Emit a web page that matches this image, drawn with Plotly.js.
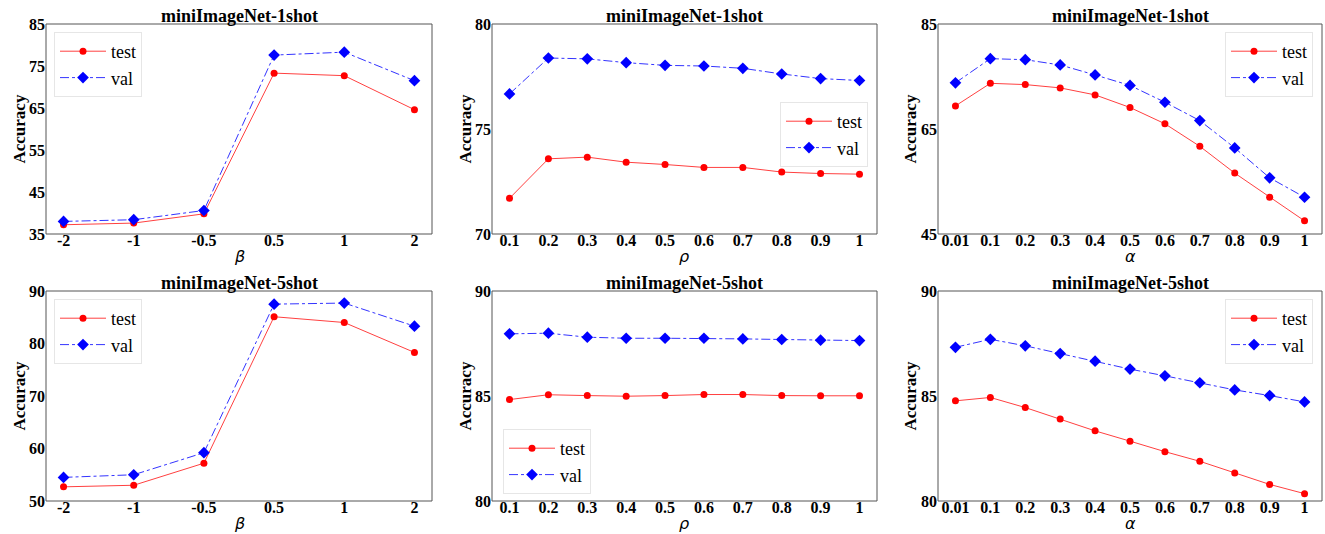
<!DOCTYPE html>
<html>
<head>
<meta charset="utf-8">
<script src="https://cdn.plot.ly/plotly-3.0.1.min.js"></script>
<style>html,body{margin:0;padding:0;background:#fff;}#chart{width:1325px;height:534px;}</style>
</head>
<body>
<div id="chart"></div>
<script>
// ---- data ----
var betaCats  = ['-2','-1','-0.5','0.5','1','2'];
var rhoCats   = ['0.1','0.2','0.3','0.4','0.5','0.6','0.7','0.8','0.9','1'];
var alphaCats = ['0.01','0.1','0.2','0.3','0.4','0.5','0.6','0.7','0.8','0.9','1'];

var beta1Test  = [37.2, 37.6, 39.8, 73.3, 72.7, 64.6];
var beta1Val   = [38.0, 38.4, 40.6, 77.6, 78.3, 71.5];
var rho1Test   = [71.7, 73.58, 73.66, 73.42, 73.31, 73.17, 73.17, 72.95, 72.88, 72.85];
var rho1Val    = [76.67, 78.38, 78.34, 78.16, 78.03, 78.0, 77.89, 77.62, 77.4, 77.31];
var alpha1Test = [69.4, 73.7, 73.46, 72.83, 71.5, 69.1, 66.0, 61.7, 56.6, 52.0, 47.5];
var alpha1Val  = [73.8, 78.4, 78.2, 77.2, 75.3, 73.3, 70.1, 66.6, 61.4, 55.7, 52.0];

var beta5Test  = [52.7, 53.0, 57.2, 85.1, 84.0, 78.3];
var beta5Val   = [54.5, 55.0, 59.2, 87.5, 87.7, 83.3];
var rho5Test   = [84.83, 85.06, 85.02, 84.99, 85.02, 85.07, 85.07, 85.02, 85.01, 85.01];
var rho5Val    = [87.96, 87.99, 87.80, 87.75, 87.75, 87.75, 87.72, 87.69, 87.66, 87.64];
var alpha5Test = [84.77, 84.93, 84.45, 83.91, 83.34, 82.85, 82.35, 81.89, 81.33, 80.79, 80.35];
var alpha5Val  = [87.32, 87.70, 87.39, 87.02, 86.66, 86.28, 85.96, 85.63, 85.29, 85.02, 84.72];

var titles = ['miniImageNet-1shot','miniImageNet-1shot','miniImageNet-1shot',
              'miniImageNet-5shot','miniImageNet-5shot','miniImageNet-5shot'];
var xLabels = ['β','ρ','α','β','ρ','α'];
var yLabel = 'Accuracy';
var yTicks = [[35,45,55,65,75,85],[70,75,80],[45,65,85],[50,60,70,80,90],[80,85,90],[80,85,90]];

// ---- build ----
var panels = [
  {cats: betaCats,  test: beta1Test,  val: beta1Val},
  {cats: rhoCats,   test: rho1Test,   val: rho1Val},
  {cats: alphaCats, test: alpha1Test, val: alpha1Val},
  {cats: betaCats,  test: beta5Test,  val: beta5Val},
  {cats: rhoCats,   test: rho5Test,   val: rho5Val},
  {cats: alphaCats, test: alpha5Test, val: alpha5Val}
];

var W = 1325, H = 534;
var colPx = [[46,432],[492,877],[938,1322]];
var rowPx = [[24,234],[291,501]];
var yTitleX = [18.5, 464.5, 909.5];
var xPad = [0.25, 0.45, 0.5];

var data = [];
var layout = {
  width: W, height: H,
  margin: {l:0, r:0, t:0, b:0},
  paper_bgcolor: '#fff', plot_bgcolor: '#fff',
  showlegend: true,
  annotations: [],
  shapes: []
};

var tickFont = {family: 'Liberation Serif', size: 16, weight: 'bold', color: '#000'};
var legendPos = [
  {x: 54/W,   y: 1-32/H,  xanchor:'left',  yanchor:'top'},
  {x: 868/W,  y: 1-102/H, xanchor:'right', yanchor:'top'},
  {x: 1313/W, y: 1-32/H,  xanchor:'right', yanchor:'top'},
  {x: 54/W,   y: 1-299/H, xanchor:'left',  yanchor:'top'},
  {x: 503/W,  y: 1-494/H, xanchor:'left',  yanchor:'bottom'},
  {x: 1313/W, y: 1-299/H, xanchor:'right', yanchor:'top'}
];

panels.forEach(function(p, i){
  var r = Math.floor(i/3), c = i%3;
  var n = i+1;
  var xa = n===1 ? 'x' : 'x'+n, ya = n===1 ? 'y' : 'y'+n;
  var lg = n===1 ? 'legend' : 'legend'+n;
  data.push({
    x: p.cats, y: p.test, xaxis: xa, yaxis: ya, name: 'test', legend: lg,
    type: 'scatter', mode: 'lines+markers',
    line: {color: 'rgba(255,0,0,0.75)', width: 1},
    marker: {color: '#ff0000', size: 7, symbol: 'circle'}
  });
  data.push({
    x: p.cats, y: p.val, xaxis: xa, yaxis: ya, name: 'val', legend: lg,
    type: 'scatter', mode: 'lines+markers',
    line: {color: 'rgba(0,0,255,0.8)', width: 1, dash: 'dashdot'},
    marker: {color: '#0000ff', size: 9, symbol: 'diamond'}
  });
  var yt = yTicks[i];
  var xKey = n===1 ? 'xaxis' : 'xaxis'+n, yKey = n===1 ? 'yaxis' : 'yaxis'+n;
  layout[xKey] = {
    domain: [colPx[c][0]/W, colPx[c][1]/W],
    anchor: 'free', position: 1-(rowPx[r][1]-5)/H, type: 'category',
    range: [-xPad[c], p.cats.length-1+xPad[c]],
    showgrid: false, zeroline: false, showline: false,
    ticks: '', ticklen: 0, tickfont: tickFont
  };
  layout[yKey] = {
    domain: [1-rowPx[r][1]/H, 1-rowPx[r][0]/H],
    anchor: xa,
    range: [yt[0], yt[yt.length-1]],
    tickvals: yt,
    showgrid: false, zeroline: false, showline: false,
    ticks: '', ticklen: 0, tickfont: tickFont
  };
  // axes frame
  layout.shapes.push({
    type: 'rect', xref: xa + ' domain', yref: ya + ' domain',
    x0: 0, x1: 1, y0: 0, y1: 1,
    line: {color: '#555', width: 1}, fillcolor: 'rgba(0,0,0,0)', layer: 'below'
  });
  var lp = legendPos[i];
  layout[lg] = {
    x: lp.x, y: lp.y, xanchor: lp.xanchor, yanchor: lp.yanchor,
    xref: 'paper', yref: 'paper',
    bgcolor: 'rgba(255,255,255,0.9)', bordercolor: '#e6e6e6', borderwidth: 1,
    font: {family: 'Liberation Serif', size: 18, color: '#000'},
    itemwidth: 46,
    tracegroupgap: 0
  };
  // subplot title
  layout.annotations.push({
    text: '<b>' + titles[i] + '</b>',
    xref: 'paper', yref: 'paper',
    x: (colPx[c][0]+colPx[c][1])/2/W, y: 1-(rowPx[r][0]-8)/H,
    xanchor: 'center', yanchor: 'middle', showarrow: false,
    font: {family: 'Liberation Serif', size: 18, color: '#000'}
  });
  // x-axis title
  layout.annotations.push({
    text: xLabels[i], borderpad: 0,
    xref: 'paper', yref: 'paper',
    x: (colPx[c][0]+colPx[c][1])/2/W, y: 1-(rowPx[r][1]+22.5)/H,
    xanchor: 'center', yanchor: 'middle', showarrow: false,
    font: {family: 'DejaVu Sans', size: 16, style: 'italic', color: '#000'}
  });
  // y-axis title
  layout.annotations.push({
    text: '<b>' + yLabel + '</b>', textangle: -90,
    xref: 'paper', yref: 'paper',
    x: yTitleX[c]/W, y: 1-(rowPx[r][0]+rowPx[r][1])/2/H,
    xanchor: 'center', yanchor: 'middle', showarrow: false,
    font: {family: 'Liberation Serif', size: 17, color: '#000'}
  });
});

Plotly.newPlot('chart', data, layout, {displayModeBar: false, staticPlot: true});
</script>
</body>
</html>
